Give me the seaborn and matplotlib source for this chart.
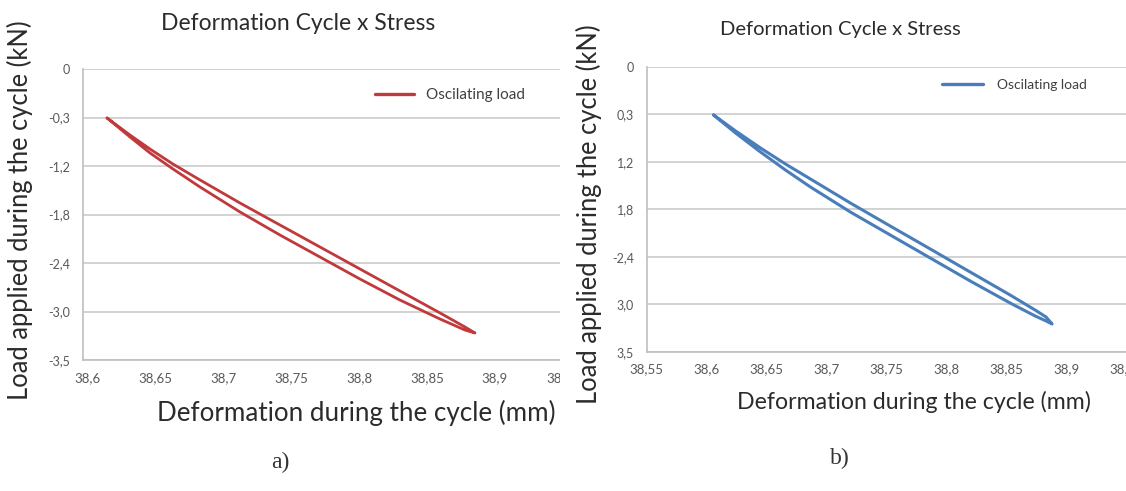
import matplotlib
matplotlib.use("Agg")
import matplotlib.pyplot as plt
from matplotlib.patches import Rectangle
from matplotlib.ticker import MultipleLocator
import seaborn as sns
import pandas as pd

# ---------------- data ----------------
# panel a) : hysteresis loop (upper branch out, lower branch back)
a_x_up = [38.6147, 38.6316, 38.6463, 38.6632, 38.6831, 38.7125, 38.7419,
          38.7713, 38.8007, 38.8301, 38.8596, 38.8779, 38.8853]
a_y_up = [-0.606, -0.817, -0.990, -1.176, -1.373, -1.658, -1.930,
          -2.202, -2.474, -2.746, -3.018, -3.191, -3.266]
a_y_down = [-0.606, -0.841, -1.039, -1.237, -1.460, -1.769, -2.054,
            -2.326, -2.598, -2.858, -3.093, -3.229, -3.266]

# panel b)
b_x_up = [38.6058, 38.6242, 38.6450, 38.6658, 38.6867, 38.7200, 38.7533,
          38.7867, 38.8200, 38.8533, 38.8742, 38.8833, 38.8883]
b_y_up = [0.610, 0.812, 1.027, 1.229, 1.419, 1.722, 2.013,
          2.303, 2.594, 2.884, 3.074, 3.162, 3.250]
b_y_down = [0.610, 0.838, 1.078, 1.305, 1.520, 1.836, 2.126,
            2.417, 2.707, 2.985, 3.149, 3.212, 3.250]

a_yticks = [0, -0.6, -1.2, -1.8, -2.4, -3.0, -3.6]
a_yticklabels = ["0", "-0,3", "-1,2", "-1,8", "-2,4", "-3,0", "-3,5"]
a_xticks = [38.6, 38.65, 38.7, 38.75, 38.8, 38.85, 38.9, 38.95]
a_xticklabels = ["38,6", "38,65", "38,7", "38,75", "38,8", "38,85", "38,9", "38,95"]

b_yticks = [0, 0.6, 1.2, 1.8, 2.4, 3.0, 3.6]
b_yticklabels = ["0", "0,3", "1,2", "1,8", "-2,4", "3,0", "3,5"]
b_xticks = [38.55, 38.6, 38.65, 38.7, 38.75, 38.8, 38.85, 38.9, 38.95]
b_xticklabels = ["38,55", "38,6", "38,65", "38,7", "38,75", "38,8", "38,85", "38,9", "38,95"]

title = "Deformation Cycle x Stress"
xlabel = "Deformation during the cycle (mm)"
ylabel = "Load applied during the cycle (kN)"
legend_label = "Oscilating load"

# build loop frames
def loop(xu, yu, yd):
    xs = list(xu) + list(reversed(xu))
    ys = list(yu) + list(reversed(yd))
    return pd.DataFrame({"x": xs, "y": ys, "series": legend_label})

df_a = loop(a_x_up, a_y_up, a_y_down)
df_b = loop(b_x_up, b_y_up, b_y_down)

# ---------------- style ----------------
sns.set_style("white")
plt.rcParams["font.family"] = ["Lato", "DejaVu Sans"]

W, H = 1126, 491
fig = plt.figure(figsize=(W / 100, H / 100), dpi=100)

def fx(px):
    return px / W

def fy(py):
    return 1 - py / H

RED = "#c0393b"
BLUE = "#4a7ebb"
GRID = "#cfcfcf"
TICK = "#595959"

# left axes: x from 82.7 px to 590 px, y from 69 px to 360 px
axa = fig.add_axes([fx(82.7), fy(360), fx(590 - 82.7), (360 - 69) / H], zorder=0)
# right axes: x from 646.7 to 1126, y from 66.7 to 351.7
axb = fig.add_axes([fx(646.7), fy(351.7), fx(1126 - 646.7), (351.7 - 66.7) / H], zorder=1)
axb.patch.set_alpha(0)

sns.lineplot(data=df_a, x="x", y="y", hue="series", palette=[RED], sort=False,
             estimator=None, ax=axa, linewidth=2.0)
sns.lineplot(data=df_b, x="x", y="y", hue="series", palette=[BLUE], sort=False,
             estimator=None, ax=axb, linewidth=2.2)

def style(ax, xlim, ylim, xticks, xtl, yticks, ytl):
    ax.set_xlim(*xlim)
    ax.set_ylim(*ylim)
    ax.set_xticks(xticks)
    ax.set_xticklabels(xtl)
    ax.set_yticks(yticks)
    ax.set_yticklabels(ytl)
    ax.xaxis.set_minor_locator(MultipleLocator(0.01))
    ax.grid(axis="y", color=GRID, linewidth=1.3)
    ax.grid(axis="x", visible=False)
    for s in ["top", "right"]:
        ax.spines[s].set_visible(False)
    for s in ["left", "bottom"]:
        ax.spines[s].set_color("#bfbfbf")
        ax.spines[s].set_linewidth(1.2)
    ax.tick_params(axis="x", which="both", direction="inout", length=3, width=0.8,
                   color="#bfbfbf", labelsize=9.5, labelcolor=TICK, pad=7)
    ax.tick_params(axis="y", length=0, labelsize=9, labelcolor=TICK, pad=9)
    ax.set_xlabel("")
    ax.set_ylabel("")

style(axa, (38.5968, 38.9699), (-3.6, 0), a_xticks, a_xticklabels, a_yticks, a_yticklabels)
style(axb, (38.55, 38.95), (3.6, 0), b_xticks, b_xticklabels, b_yticks, b_yticklabels)

# legends
la = axa.legend(loc="center left", bbox_to_anchor=(0.576, 0.911), frameon=False,
                fontsize=11, handlelength=2.55, handletextpad=0.8, borderpad=0,
                borderaxespad=0)
lb = axb.legend(loc="center left", bbox_to_anchor=(0.616, 0.936), frameon=False,
                fontsize=10, handlelength=2.95, handletextpad=1.0, borderpad=0,
                borderaxespad=0)
for leg in (la, lb):
    for t in leg.get_texts():
        t.set_color("#404040")
    for h in leg.get_lines():
        h.set_linewidth(2.4)

# white mask to crop the left chart at the panel border
fig.add_artist(Rectangle((fx(560), 0), fx(60), 1, transform=fig.transFigure,
                         facecolor="white", edgecolor="none", zorder=0.5))

TXT = "#2b2b2b"
# titles
fig.text(fx(298), fy(24), title, ha="center", va="center", fontsize=16.5, color=TXT)
fig.text(fx(840), fy(30), title, ha="center", va="center", fontsize=14.5, color=TXT)
# axis labels
fig.text(fx(356), fy(413), xlabel, ha="center", va="center", fontsize=18.7, color=TXT)
fig.text(fx(914), fy(402), xlabel, ha="center", va="center", fontsize=16.7, color=TXT)
fig.text(fx(20), fy(210), ylabel, ha="center", va="center", rotation=90, fontsize=18.4,
         color=TXT)
fig.text(fx(589), fy(214), ylabel, ha="center", va="center", rotation=90, fontsize=18.4,
         color=TXT, zorder=2)
# panel letters
fig.text(fx(280), fy(462), "a)", ha="center", va="center", fontsize=17,
         family="Liberation Serif", color="#333333")
fig.text(fx(840), fy(458), "b)", ha="center", va="center", fontsize=17,
         family="Liberation Serif", color="#333333")

fig.savefig("out.png", dpi=100)
